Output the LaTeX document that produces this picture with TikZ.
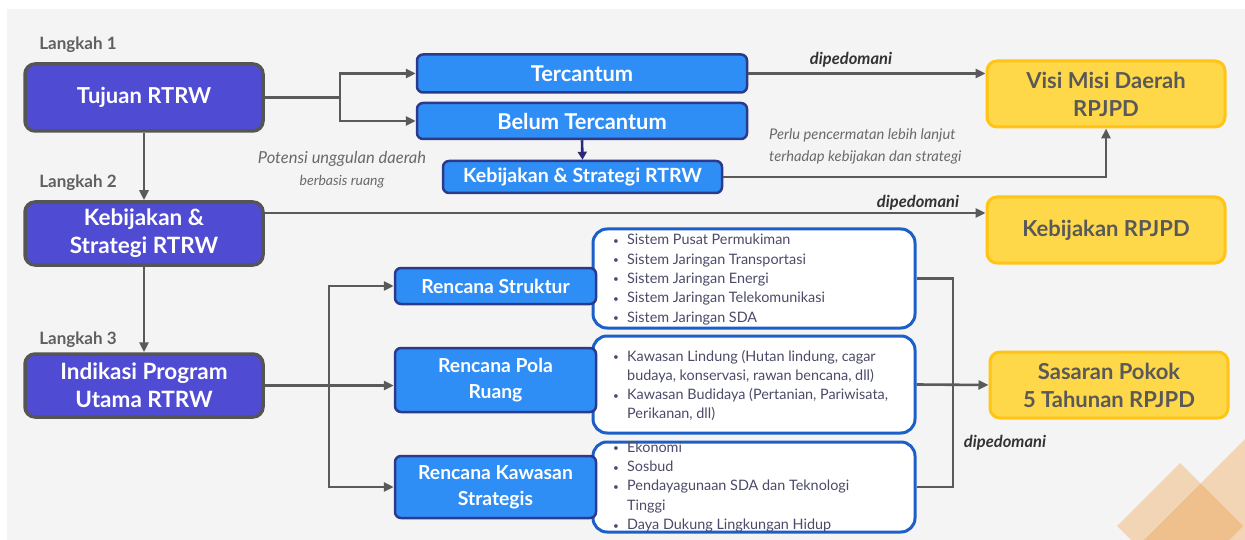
\documentclass[tikz,border=0pt]{standalone}
\usepackage{fontspec}
\setmainfont{Lato}
\usetikzlibrary{arrows.meta,calc}
\definecolor{bgray}{HTML}{F4F4F4}
\definecolor{indigo}{HTML}{4F4BD3}
\definecolor{boxgray}{HTML}{555555}
\definecolor{bluef}{HTML}{2F8EF6}
\definecolor{navy}{HTML}{2B3A8A}
\definecolor{listb}{HTML}{1C5FC9}
\definecolor{yelf}{HTML}{FFD84A}
\definecolor{yelb}{HTML}{FFC414}
\definecolor{ytext}{HTML}{595959}
\definecolor{conn}{HTML}{5A5A5A}
\definecolor{navyarr}{HTML}{2A2A78}
\definecolor{lktext}{HTML}{5F5F5F}
\definecolor{notes}{HTML}{6A6A6A}
\definecolor{listtext}{HTML}{4B4B69}
\definecolor{orlight}{HTML}{F2D5B5}
\definecolor{ordark}{HTML}{F0C08C}
\newcommand{\fs}[2]{\fontsize{#1}{#2}\selectfont}
\newcommand{\bul}{\makebox[14pt][l]{\raisebox{0.5pt}{\fs{10}{10}•}}}
\newcommand{\nob}{\makebox[14pt][l]{}}
\tikzset{
  mainbox/.style={draw=boxgray, line width=3.5pt, fill=indigo, rounded corners=10pt,
    text=white, font=\bfseries\fs{22.5}{28}, align=center, minimum width=238pt, inner sep=0pt},
  bluebox/.style={draw=navy, line width=2.5pt, fill=bluef, rounded corners=6pt,
    text=white, font=\bfseries\fs{21.8}{26}, align=center, inner sep=0pt},
  yelbox/.style={draw=yelb, line width=3pt, fill=yelf, rounded corners=10pt,
    text=ytext, font=\bfseries\fs{22}{28}, align=center, minimum width=238pt, minimum height=66pt, inner sep=0pt},
  listbox/.style={draw=listb, line width=3pt, fill=white, rounded corners=14pt,
    minimum width=322pt, inner sep=0pt},
  listtxt/.style={anchor=west, text=listtext, font=\fs{14.4}{19.3}, align=left, inner sep=0pt},
  lktxt/.style={text=lktext, font=\bfseries\fs{17}{18}, inner sep=0pt},
  notetxt/.style={text=notes, font=\itshape\fs{16.5}{22}, inner sep=0pt},
  dptxt/.style={text=black!80, font=\bfseries\itshape\fs{16.5}{18}, inner sep=0pt},
  connl/.style={draw=conn, line width=2.6pt},
  arr/.style={connl, -{Triangle[length=10pt,width=9pt]}},
}
\begin{document}
\begin{tikzpicture}[x=1pt,y=-1pt]
\useasboundingbox (0,0) rectangle (1245,540);
\fill[white] (0,0) rectangle (1245,540);
\fill[bgray] (7,9) rectangle (1245,540);
% decorative diamonds
\begin{scope}
\clip (7,9) rectangle (1245,540);
\fill[orlight] (1180,463) -- (1243,526) -- (1180,589) -- (1117,526) -- cycle;
\fill[orlight] (1290,394) -- (1436,540) -- (1290,686) -- (1144,540) -- cycle;
\begin{scope}
\clip (1180,463) -- (1243,526) -- (1180,589) -- (1117,526) -- cycle;
\fill[ordark] (1290,394) -- (1436,540) -- (1290,686) -- (1144,540) -- cycle;
\end{scope}
\end{scope}

% left column
\node[lktxt] (lk1) at (78,45) {Langkah 1};
\node[lktxt] (lk2) at (78,183) {Langkah 2};
\node[lktxt] (lk3) at (78,340) {Langkah 3};
\node[mainbox, minimum height=67pt, font=\bfseries\fs{22}{28}] (tuj) at (144,97.5) {Tujuan RTRW};
\node[mainbox, minimum height=63pt] (keb) at (144,233.5) {Kebijakan \&\\Strategi RTRW};
\node[mainbox, minimum height=63pt] (ind) at (144,385.5) {Indikasi Program\\Utama RTRW};

% top blue boxes
\node[bluebox, minimum width=330pt, minimum height=38pt] (ter) at (582,73.5) {Tercantum};
\node[bluebox, minimum width=330pt, minimum height=36pt] (bel) at (582,121) {Belum Tercantum};
\node[bluebox, minimum width=279pt, minimum height=32pt, font=\bfseries\fs{19.6}{24}] (kbs) at (582.5,177) {Kebijakan \& Strategi RTRW};

% notes
\node[notetxt, align=center] (pot) at (342,170) {Potensi unggulan daerah\\{\fs{14}{22}berbasis ruang}};
\node[notetxt, align=left, anchor=west, font=\itshape\fs{14.7}{22}] (perlu) at (769,146) {Perlu pencermatan lebih lanjut\\terhadap kebijakan dan strategi};

% yellow boxes
\node[yelbox] (visi) at (1106,94) {Visi Misi Daerah\\RPJPD};
\node[yelbox] (kebr) at (1106,230) {Kebijakan RPJPD};
\node[yelbox] (sas) at (1109,385) {Sasaran Pokok\\5 Tahunan RPJPD};

% list boxes
\node[listbox, minimum height=99pt] (l1) at (754,278.5) {};
\node[listbox, minimum height=97pt] (l2) at (754,384.5) {};
\node[listbox, minimum height=90pt] (l3) at (754,487) {};

% rencana boxes
\node[bluebox, minimum width=201pt, minimum height=36pt, font=\bfseries\fs{19.3}{26}] (rs) at (495.5,286) {Rencana Struktur};
\node[bluebox, minimum width=201pt, minimum height=64pt, font=\bfseries\fs{19.3}{26}] (rp) at (495.5,380) {Rencana Pola\\Ruang};
\node[bluebox, minimum width=201pt, minimum height=62pt, font=\bfseries\fs{19.3}{26}] (rk) at (495.5,487) {Rencana Kawasan\\Strategis};

% list texts
\node[listtxt] (t1) at (613,279.5) {\bul Sistem Pusat Permukiman\\\bul Sistem Jaringan Transportasi\\\bul Sistem Jaringan Energi\\\bul Sistem Jaringan Telekomunikasi\\\bul Sistem Jaringan SDA};
\node[listtxt] (t2) at (613,385.5) {\bul Kawasan Lindung (Hutan lindung, cagar\\\nob budaya, konservasi, rawan bencana, dll)\\\bul Kawasan Budidaya (Pertanian, Pariwisata,\\\nob Perikanan, dll)};
\node[listtxt] (t3) at (613,487) {\bul Ekonomi\\\bul Sosbud\\\bul Pendayagunaan SDA dan Teknologi\\\nob Tinggi\\\bul Daya Dukung Lingkungan Hidup};

% connectors
\coordinate (f1) at (340,97.5);
\draw[connl] (tuj.east) -- (f1);
\draw[arr] (f1) |- (ter.west);
\draw[arr] (f1) |- (bel.west);
\draw[arr] (tuj.south) -- (keb.north);
\draw[arr] (keb.south) -- (ind.north);
\draw[arr] (ter.east) -- (ter.east -| visi.west);
\draw[navyarr, line width=2.6pt, -{Triangle[length=8pt,width=9pt]}] (bel.south) -- (kbs.north);
\draw[arr] (kbs.east) -| (visi.south);
\path ([yshift=20.5pt]keb.east) coordinate (k2);
\draw[arr] (k2) -- (k2 -| kebr.west);
\coordinate (f2) at (329,385.5);
\draw[connl] (ind.east) -- (f2);
\draw[arr] (f2) -- (f2 -| rp.west);
\draw[arr] (f2) |- (rs.west);
\draw[arr] (f2) |- (rk.west);
\coordinate (bx) at (953,0);
\draw[connl] (l1.east) -- (l1.east -| bx) -- (l3.east -| bx) -- (l3.east);
\draw[arr] (l2.east) -- (sas.west);

% dipedomani labels
\node[dptxt] (dp1) at (851,60) {dipedomani};
\node[dptxt] (dp2) at (918,203) {dipedomani};
\node[dptxt] (dp3) at (1005,443) {dipedomani};
\end{tikzpicture}
\end{document}
